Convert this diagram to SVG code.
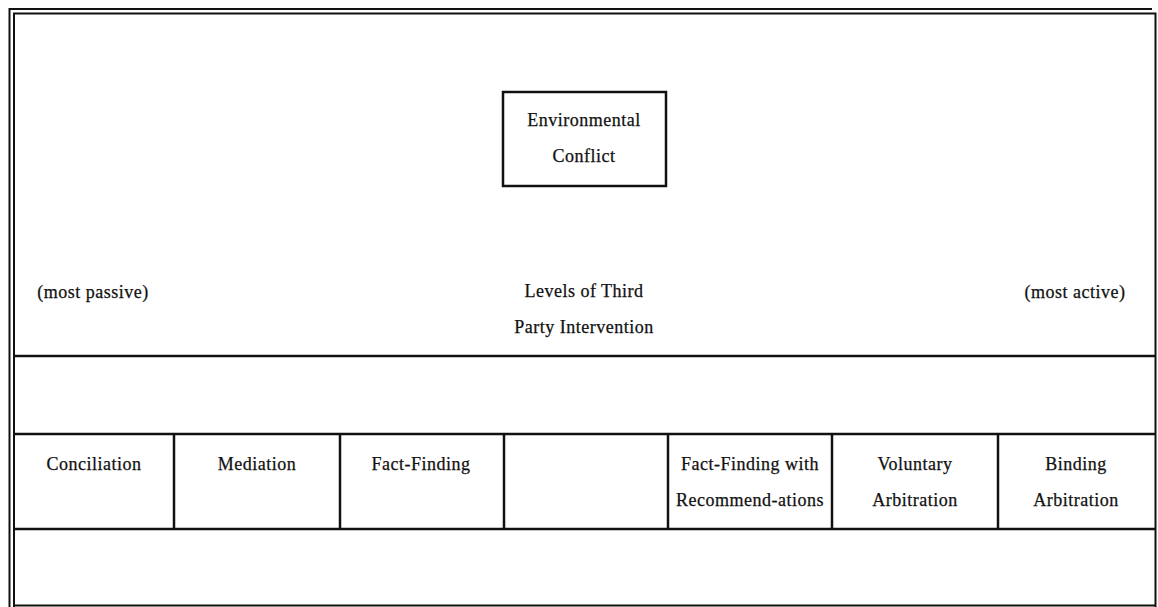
<svg xmlns="http://www.w3.org/2000/svg" width="1158" height="607" viewBox="0 0 1158 607">
<style>
.t{font-family:"Liberation Serif","DejaVu Serif",serif;font-size:18px;fill:#111;stroke:#111;stroke-width:0.25;letter-spacing:0.5px;text-anchor:middle}
.ln{stroke:#111;stroke-width:2.5;fill:none}
.fr{stroke:#111;stroke-width:2;fill:none}
</style>
<rect width="1158" height="607" fill="#fff"/>
<g id="frame">
<path class="fr" d="M9.5,607 V9 H1152" stroke-width="3"/>
<path class="fr" d="M14,607 V13.5 H1155.5 V607"/>
<line class="fr" x1="14" y1="605.5" x2="1155.5" y2="605.5" stroke-width="1.5"/>
</g>
<g id="connectors">
<line class="ln" x1="14" y1="356" x2="1155" y2="356"/>
<line class="ln" x1="14" y1="434" x2="1155" y2="434"/>
<line class="ln" x1="14" y1="529" x2="1155" y2="529"/>
<line class="ln" x1="174" y1="434" x2="174" y2="529"/>
<line class="ln" x1="340" y1="434" x2="340" y2="529"/>
<line class="ln" x1="504" y1="434" x2="504" y2="529"/>
<line class="ln" x1="668" y1="434" x2="668" y2="529"/>
<line class="ln" x1="832" y1="434" x2="832" y2="529"/>
<line class="ln" x1="998" y1="434" x2="998" y2="529"/>
</g>
<g id="environmental-conflict">
<rect class="ln" x="503" y="92" width="163" height="94"/>
<text class="t" x="584" y="126">Environmental</text>
<text class="t" x="584" y="162">Conflict</text>
</g>
<g id="most-passive"><text class="t" x="93" y="298">(most passive)</text></g>
<g id="levels"><text class="t" x="584" y="297">Levels of Third</text><text class="t" x="584" y="333">Party Intervention</text></g>
<g id="most-active"><text class="t" x="1075" y="298">(most active)</text></g>
<g id="conciliation"><text class="t" x="94" y="470">Conciliation</text></g>
<g id="mediation"><text class="t" x="257" y="470">Mediation</text></g>
<g id="fact-finding"><text class="t" x="421" y="470">Fact-Finding</text></g>
<g id="empty-cell"></g>
<g id="fact-finding-rec"><text class="t" x="750" y="470">Fact-Finding with</text><text class="t" x="750" y="506">Recommend-ations</text></g>
<g id="voluntary"><text class="t" x="915" y="470">Voluntary</text><text class="t" x="915" y="506">Arbitration</text></g>
<g id="binding"><text class="t" x="1076" y="470">Binding</text><text class="t" x="1076" y="506">Arbitration</text></g>
</svg>
